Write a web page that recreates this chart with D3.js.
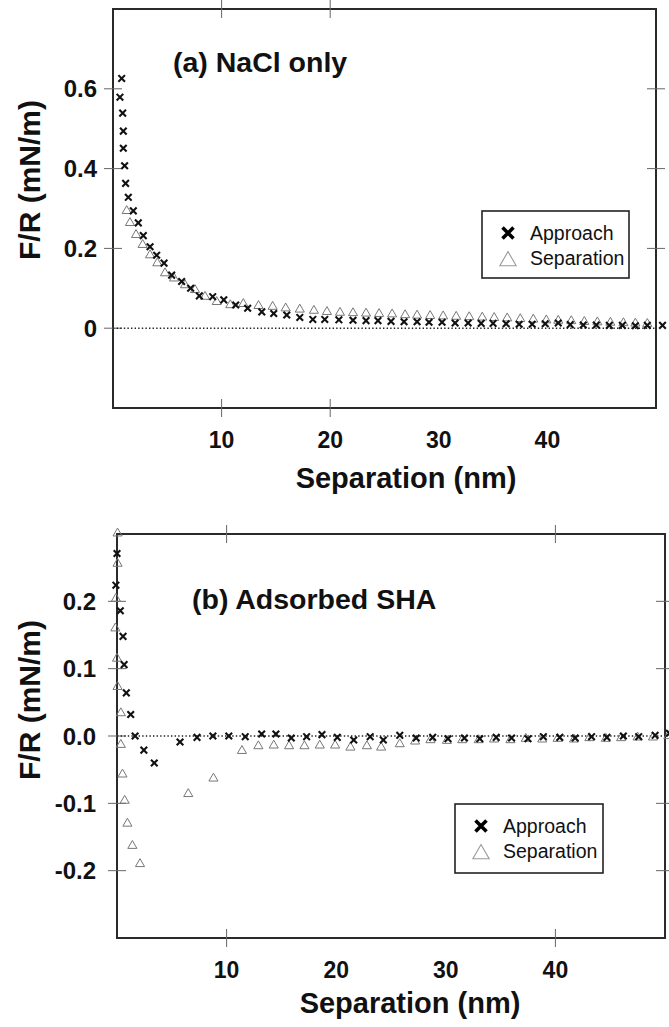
<!DOCTYPE html>
<html>
<head>
<meta charset="utf-8">
<script src="https://cdn.jsdelivr.net/npm/d3@7"></script>
<style>
  html, body { margin: 0; padding: 0; background: #fff; }
  svg { display: block; }
  text { font-family: "Liberation Sans", Arial, Helvetica, sans-serif; fill: #111; }
</style>
</head>
<body>
<svg id="fig" width="669" height="1027"></svg>
<script>
// ---- Panel (a): NaCl only — normalized force vs separation ----
const approachA = [
  [0.80,0.626],[0.64,0.579],[0.89,0.539],[0.95,0.494],[0.95,0.451],[1.07,0.407],
  [1.16,0.363],[1.41,0.328],[1.87,0.294],[2.33,0.264],[2.79,0.232],[3.41,0.204],
  [4.02,0.183],[4.70,0.163],[5.40,0.133],[6.32,0.117],[7.15,0.100],[7.95,0.081],
  [9.18,0.079],[10.2,0.071],[11.3,0.058],[12.4,0.050],[13.7,0.041],[14.8,0.037],
  [16.0,0.033],[17.2,0.027],[18.4,0.022],[19.5,0.022],[20.8,0.021],[22.1,0.020],
  [23.3,0.019],[24.4,0.019],[25.6,0.017],[26.8,0.016],[28.0,0.016],[29.1,0.015],
  [30.3,0.015],[31.5,0.013],[32.7,0.013],[33.9,0.012],[35.0,0.012],[36.2,0.011],
  [37.4,0.010],[38.6,0.010],[39.8,0.011],[41.0,0.013],[42.1,0.009],[43.3,0.008],
  [44.5,0.008],[45.7,0.007],[46.9,0.007],[48.1,0.006],[49.2,0.007],[50.6,0.007]
];
const separationA = [
  [1.26,0.294],[1.56,0.264],[2.12,0.234],[2.73,0.209],[3.41,0.183],[4.08,0.163],
  [4.79,0.138],[5.62,0.125],[6.63,0.108],[7.55,0.096],[8.47,0.079],[9.55,0.066],
  [10.8,0.058],[12.0,0.061],[13.4,0.056],[14.7,0.054],[15.9,0.050],[17.2,0.047],
  [18.5,0.044],[19.7,0.041],[20.9,0.039],[22.1,0.038],[23.3,0.037],[24.5,0.036],
  [25.7,0.035],[26.9,0.033],[28.0,0.032],[29.2,0.031],[30.4,0.030],[31.6,0.029],
  [32.8,0.028],[34.0,0.027],[35.1,0.026],[36.3,0.025],[37.5,0.023],[38.7,0.022],
  [39.9,0.020],[41.0,0.019],[42.2,0.018],[43.4,0.016],[44.6,0.015],[45.8,0.014],
  [47.0,0.013],[48.1,0.012],[49.2,0.011]
];

// ---- Panel (b): Adsorbed SHA ----
const approachB = [
  [0.0,0.271],[-0.1,0.224],[0.3,0.186],[0.55,0.148],[0.65,0.106],[0.85,0.064],
  [1.25,0.032],[1.65,0.000],[2.45,-0.021],[3.4,-0.040],[5.75,-0.009],[7.3,-0.002],
  [8.75,0.000],[10.2,0.000],[11.7,-0.001],[13.2,0.003],[14.5,0.003],[15.9,-0.003],
  [17.3,-0.001],[18.7,0.002],[20.1,-0.002],[21.6,-0.006],[23.1,-0.001],[24.3,-0.006],
  [25.8,0.001],[27.3,-0.003],[28.8,-0.002],[30.2,-0.004],[31.7,-0.003],[33.1,-0.004],
  [34.6,-0.002],[36.0,-0.003],[37.5,-0.004],[38.9,-0.001],[40.4,-0.002],[41.8,-0.003],
  [43.3,-0.001],[44.7,-0.002],[46.2,0.000],[47.6,-0.001],[49.1,0.001],[50.4,0.004]
];
const separationB = [
  [0.05,0.301],[0.05,0.256],[-0.1,0.204],[-0.15,0.160],[0.0,0.115],[0.05,0.073],
  [0.35,0.034],[0.35,-0.013],[0.5,-0.057],[0.7,-0.096],[0.95,-0.130],[1.4,-0.163],
  [2.1,-0.190],[6.5,-0.086],[8.8,-0.063],[11.4,-0.022],[12.9,-0.015],[14.3,-0.014],
  [15.7,-0.015],[17.1,-0.015],[18.5,-0.014],[19.9,-0.014],[21.3,-0.017],[22.8,-0.015],
  [24.1,-0.017],[25.8,-0.012],[27.2,-0.008],[28.6,-0.006],[30.1,-0.007],[31.5,-0.006],
  [33.0,-0.006],[34.4,-0.005],[35.9,-0.006],[37.3,-0.004],[38.8,-0.005],[40.2,-0.004],
  [41.7,-0.005],[43.1,-0.003],[44.6,-0.004],[46.0,-0.003],[47.5,-0.002],[48.9,-0.002],
  [50.3,0.000]
];

// ---- Axis ticks and labels ----
const xDomain = [0, 50];
const xLabelTicks = [10, 20, 30, 40];
const xMarkTicksA = [10, 20];
const xMarkTicksB = [10, 40];
const yDomainA = [-0.2, 0.8];
const yTicksA = [0.6, 0.4, 0.2, 0];
const yTickLabelsA = ["0.6", "0.4", "0.2", "0"];
const yRightTicksA = [0.6, 0.4, 0.2];
const yDomainB = [-0.3, 0.3];
const yTicksB = [0.2, 0.1, 0.0, -0.1, -0.2];
const yTickLabelsB = ["0.2", "0.1", "0.0", "-0.1", "-0.2"];
const yRightTicksB = [0.2, 0.1, -0.1, -0.2];
const seriesNames = ["Approach", "Separation"];

const svg = d3.select("#fig");

const crossPath = r => `M${-r},${-r}L${r},${r}M${-r},${r}L${r},${-r}`;
const triSymbol = s => d3.symbol(d3.symbolTriangle, s)();

function drawPanel(p) {
  const g = svg.append("g");
  const x = d3.scaleLinear().domain(xDomain).range([p.left, p.right]);
  const y = d3.scaleLinear().domain(p.yDomain).range([p.bottom, p.top]);

  // frame
  g.append("rect")
    .attr("x", p.left).attr("y", p.top)
    .attr("width", p.right - p.left).attr("height", p.bottom - p.top)
    .attr("fill", "none").attr("stroke", "#2a2a2a").attr("stroke-width", 2);

  const tl = 9;
  // y tick marks (crossing the frame)
  g.selectAll(".ytl").data(p.yTicks).join("line")
    .attr("x1", p.left - tl).attr("x2", p.left + tl)
    .attr("y1", d => y(d)).attr("y2", d => y(d))
    .attr("stroke", "#666").attr("stroke-width", 1);
  g.selectAll(".ytr").data(p.yRightTicks).join("line")
    .attr("x1", p.right - tl).attr("x2", p.right + tl)
    .attr("y1", d => y(d)).attr("y2", d => y(d))
    .attr("stroke", "#666").attr("stroke-width", 1);
  // x tick marks top and bottom
  [p.top, p.bottom].forEach(yy => {
    g.selectAll(null).data(p.xMarkTicks).join("line")
      .attr("x1", d => x(d)).attr("x2", d => x(d))
      .attr("y1", yy - tl).attr("y2", yy + tl)
      .attr("stroke", "#666").attr("stroke-width", 1);
  });

  // tick labels
  g.selectAll(".ylab").data(p.yTicks).join("text")
    .attr("x", p.yLabelRight).attr("y", d => y(d) + 8.5)
    .attr("text-anchor", "end").attr("font-size", 24).attr("font-weight", "bold")
    .text((d, i) => p.yTickLabels[i]);
  g.selectAll(".xlab").data(xLabelTicks).join("text")
    .attr("x", d => x(d)).attr("y", p.bottom + p.xTickGap)
    .attr("text-anchor", "middle").attr("font-size", 23).attr("font-weight", "bold")
    .text(d => d);

  // axis titles
  g.append("text")
    .attr("x", p.xTitleX).attr("y", p.bottom + p.xTitleGap)
    .attr("text-anchor", "middle").attr("font-size", 29).attr("font-weight", "bold")
    .text("Separation (nm)");
  g.append("text")
    .attr("transform", `translate(40,${p.yTitleY}) rotate(-90)`)
    .attr("text-anchor", "middle").attr("font-size", 30).attr("font-weight", "bold")
    .text("F/R (mN/m)");

  // panel title
  g.append("text")
    .attr("x", p.titleX).attr("y", p.titleY)
    .attr("font-size", 28.5).attr("font-weight", "bold")
    .text(p.title);

  // zero reference line
  g.append("line")
    .attr("x1", p.left).attr("x2", p.right)
    .attr("y1", y(0)).attr("y2", y(0))
    .attr("stroke", "#222").attr("stroke-width", 1.6)
    .attr("stroke-dasharray", "1.4,2.2");

  // separation (open triangles)
  g.selectAll(".sep").data(p.separation).join("path")
    .attr("transform", d => `translate(${x(d[0])},${y(d[1])})`)
    .attr("d", triSymbol(36))
    .attr("fill", "none").attr("stroke", "#777").attr("stroke-width", 1);

  // approach (crosses)
  g.selectAll(".app").data(p.approach).join("path")
    .attr("transform", d => `translate(${x(d[0])},${y(d[1])})`)
    .attr("d", crossPath(3.3))
    .attr("fill", "none").attr("stroke", "#111").attr("stroke-width", 2.1);

  // legend
  const L = p.legend;
  g.append("rect")
    .attr("x", L.x).attr("y", L.y).attr("width", L.w).attr("height", L.h)
    .attr("fill", "#fff").attr("stroke", "#222").attr("stroke-width", 1.6);
  g.append("path")
    .attr("transform", `translate(${L.x + 26},${L.y + 22})`)
    .attr("d", crossPath(5.5))
    .attr("fill", "none").attr("stroke", "#000").attr("stroke-width", 3.6);
  g.append("path")
    .attr("transform", `translate(${L.x + 26},${L.y + 50})`)
    .attr("d", triSymbol(115))
    .attr("fill", "none").attr("stroke", "#999").attr("stroke-width", 1.1);
  seriesNames.forEach((name, i) => {
    g.append("text")
      .attr("x", L.x + 48).attr("y", L.y + 29 + i * 25)
      .attr("font-size", 19.5)
      .text(name);
  });
}

drawPanel({
  left: 113, right: 656, top: 9, bottom: 408,
  yDomain: yDomainA, yTicks: yTicksA, yTickLabels: yTickLabelsA, yRightTicks: yRightTicksA,
  xMarkTicks: xMarkTicksA,
  yLabelRight: 97, xTickGap: 40, xTitleGap: 80, xTitleX: 406, yTitleY: 180,
  title: "(a) NaCl only", titleX: 173, titleY: 71.5,
  approach: approachA, separation: separationA,
  legend: { x: 482, y: 211, w: 147, h: 67 }
});

drawPanel({
  left: 117, right: 665, top: 534, bottom: 938,
  yDomain: yDomainB, yTicks: yTicksB, yTickLabels: yTickLabelsB, yRightTicks: yRightTicksB,
  xMarkTicks: xMarkTicksB,
  yLabelRight: 96, xTickGap: 40, xTitleGap: 75, xTitleX: 410, yTitleY: 700,
  title: "(b) Adsorbed SHA", titleX: 192, titleY: 609,
  approach: approachB, separation: separationB,
  legend: { x: 455, y: 804, w: 148, h: 69 }
});
</script>
</body>
</html>
